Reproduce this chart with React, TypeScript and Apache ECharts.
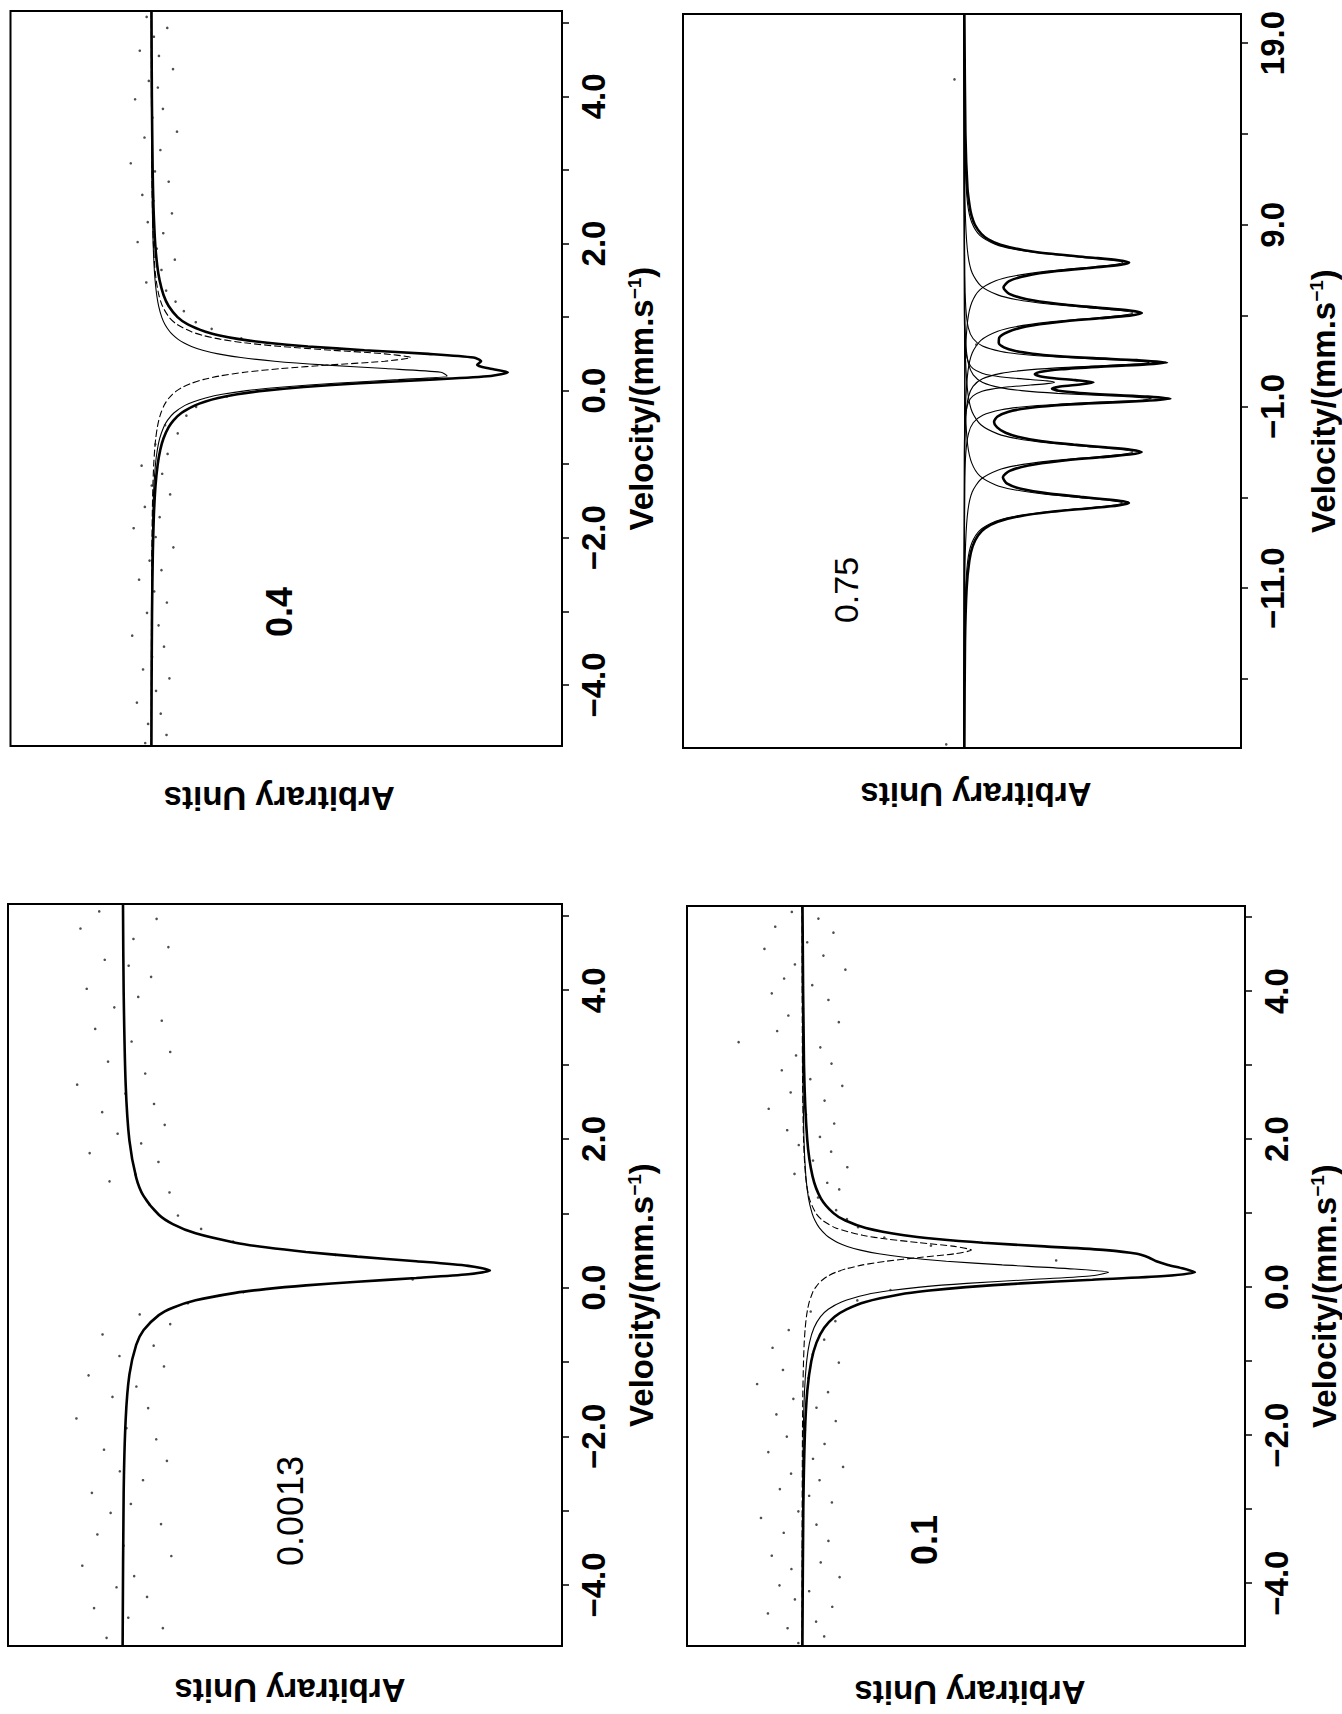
import React, { useEffect, useRef } from "react";
import * as echarts from "echarts";

type P = [number, number]; // [velocity (mm/s), absorption (arbitrary units)]

// ---------- Panel "0.4" (top left) ----------
const p04Total: P[] = [
  [5.16, 0.14], [4, 0.24], [3, 0.46], [2.5, 0.69], [2, 1.16], [1.7, 1.73], [1.5, 2.38], [1.3, 3.47],
  [1.15, 4.88], [1.0, 7.35], [0.9, 10.2], [0.8, 15.1], [0.75, 19.0], [0.7, 24.4], [0.65, 32.2],
  [0.6, 43.5], [0.55, 59.1], [0.5, 76.8], [0.45, 89.3], [0.4, 91.4], [0.35, 90.3], [0.3, 93.7],
  [0.25, 98.8], [0.2, 94.1], [0.15, 77.2], [0.1, 57.9], [0.05, 42.3], [0, 31.4], [-0.05, 23.9],
  [-0.1, 18.6], [-0.15, 14.9], [-0.2, 12.2], [-0.3, 8.5], [-0.4, 6.3], [-0.5, 4.85], [-0.65, 3.45],
  [-0.8, 2.59], [-1.0, 1.86], [-1.3, 1.23], [-1.7, 0.79], [-2.2, 0.51], [-3, 0.29], [-4, 0.17], [-4.83, 0.12],
];
const p04CompA: P[] = [
  [5.16, 0.07], [4, 0.13], [3, 0.25], [2.5, 0.36], [2, 0.59], [1.7, 0.85], [1.5, 1.13], [1.3, 1.58],
  [1.15, 2.12], [1.0, 2.97], [0.9, 3.87], [0.8, 5.23], [0.75, 6.2], [0.7, 7.43], [0.65, 9.05],
  [0.6, 11.2], [0.55, 14.3], [0.5, 18.6], [0.45, 24.9], [0.4, 34.2], [0.35, 47.7], [0.3, 64.9],
  [0.25, 80.3], [0.2, 82.0], [0.15, 68.5], [0.1, 50.9], [0.05, 36.6], [0, 26.5], [-0.05, 19.7],
  [-0.1, 15.1], [-0.15, 11.8], [-0.2, 9.4], [-0.3, 6.4], [-0.4, 4.6], [-0.5, 3.47], [-0.65, 2.41],
  [-0.8, 1.77], [-1.0, 1.24], [-1.3, 0.8], [-1.7, 0.5], [-2.2, 0.32], [-3, 0.18], [-4, 0.11], [-4.83, 0.07],
];
const p04CompB: P[] = [
  [5.16, 0.08], [4, 0.13], [3, 0.25], [2.5, 0.38], [2, 0.66], [1.7, 1.02], [1.5, 1.44], [1.3, 2.17],
  [1.15, 3.16], [1.0, 4.98], [0.9, 7.19], [0.8, 11.2], [0.75, 14.4], [0.7, 19.1], [0.65, 25.9],
  [0.6, 36.0], [0.55, 49.8], [0.5, 64.7], [0.45, 71.9], [0.4, 64.7], [0.35, 49.8], [0.3, 36.0],
  [0.25, 25.9], [0.2, 19.1], [0.15, 14.4], [0.1, 11.2], [0.05, 8.87], [0, 7.19], [-0.05, 5.94],
  [-0.1, 4.98], [-0.15, 4.23], [-0.2, 3.64], [-0.3, 2.77], [-0.4, 2.17], [-0.5, 1.75], [-0.65, 1.31],
  [-0.8, 1.02], [-1.0, 0.76], [-1.3, 0.52], [-1.7, 0.35], [-2.2, 0.23], [-3, 0.14], [-4, 0.09], [-4.83, 0.05],
];
const p04Points: P[] = [
  [5.08, -1.2], [4.93, 4.5], [4.81, 0.8], [4.62, -3.1], [4.55, 2.2], [4.37, 6.1], [4.21, -0.6], [4.12, 1.9],
  [3.96, -4.4], [3.83, 3.3], [3.71, 0.4], [3.52, 7.2], [3.44, -1.8], [3.27, 2.6], [3.09, -5.6], [2.98, 1.1],
  [2.84, 4.9], [2.66, -2.4], [2.58, 0.7], [2.41, 5.8], [2.29, -0.9], [2.14, 3.4], [2.02, -3.7], [1.93, 1.6],
  [1.78, 6.6], [1.64, 2.9], [1.47, -1.3], [1.36, 4.2], [1.21, 6.8], [1.08, 9.1], [0.93, 12.4], [0.84, 16.8],
  [0.71, 25], [-0.08, 21], [-0.22, 12.5], [-0.34, 9.8], [-0.47, 3.9], [-0.58, 7.4], [-0.73, 1.2],
  [-0.86, 4.6], [-1.02, -2.6], [-1.13, 3.1], [-1.29, 0.2], [-1.41, 5.3], [-1.58, -1.7], [-1.72, 2.4],
  [-1.87, -4.8], [-1.99, 1.3], [-2.13, 6.2], [-2.31, -0.4], [-2.44, 2.9], [-2.57, -3.3], [-2.73, 0.9],
  [-2.88, 4.4], [-3.02, -1.1], [-3.19, 2.1], [-3.33, -5.2], [-3.48, 3.6], [-3.62, 0.3], [-3.79, -2.2],
  [-3.91, 5.1], [-4.08, 1.4], [-4.24, -3.9], [-4.39, 2.7], [-4.53, -0.8], [-4.68, 4.3], [-4.79, -1.6],
];

// ---------- Panel "0.75" (top right) ----------
const p075Total: P[] = [
  [20.6, 0.2], [14, 0.7], [11, 1.7], [10, 2.8], [9.5, 3.7], [9, 5.3], [8.5, 8.4], [8.2, 11.8], [7.9, 17.7],
  [7.6, 29.2], [7.4, 42.5], [7.2, 61.2], [7.05, 75.1], [6.92, 80.2], [6.8, 76.2], [6.65, 63.4], [6.45, 45.3],
  [6.2, 30.5], [5.9, 21.9], [5.55, 19.2], [5.2, 22.0], [4.9, 30.5], [4.65, 45.3], [4.45, 63.8], [4.28, 80.5],
  [4.14, 86.4], [4.0, 80.4], [3.85, 65.7], [3.65, 46.1], [3.4, 30.2], [3.1, 21.3], [2.8, 17.2], [2.5, 16.9],
  [2.25, 19.4], [2.05, 25.0], [1.9, 33.3], [1.78, 44.9], [1.66, 62.9], [1.55, 84.1], [1.42, 98.6],
  [1.3, 86.8], [1.18, 65.0], [1.05, 47.2], [0.9, 36.8], [0.78, 34.4], [0.66, 36.8], [0.55, 43.9],
  [0.45, 54.1], [0.33, 62.9], [0.22, 57.1], [0.1, 46.7], [-0.02, 42.7], [-0.14, 45.9], [-0.26, 56.3],
  [-0.36, 71.3], [-0.46, 89.4], [-0.58, 100.2], [-0.7, 86.9], [-0.82, 63.5], [-0.95, 43.9], [-1.1, 30.5],
  [-1.3, 21.3], [-1.55, 16.3], [-1.85, 14.6], [-2.15, 16.1], [-2.45, 20.2], [-2.7, 27.2], [-2.9, 37.2],
  [-3.1, 53.2], [-3.25, 68.7], [-3.38, 81.0], [-3.51, 86.3], [-3.65, 80.4], [-3.8, 66.0], [-4.0, 46.7],
  [-4.25, 31.2], [-4.55, 22.2], [-4.9, 18.9], [-5.25, 21.0], [-5.55, 28.2], [-5.8, 41.4], [-5.98, 56.6],
  [-6.12, 69.9], [-6.22, 77.3], [-6.32, 80.1], [-6.45, 74.9], [-6.6, 61.2], [-6.8, 42.5], [-7.05, 26.6],
  [-7.35, 16.4], [-7.7, 10.3], [-8.1, 6.8], [-8.7, 4.2], [-9.5, 2.6], [-11, 1.3], [-14, 0.5], [-19.8, 0.2],
];
const p075Comp1: P[] = [
  [20.6, 0.1], [14.92, 0.3], [11.92, 0.76], [10.12, 1.8], [9.12, 3.8], [8.42, 7.7], [7.92, 15.4], [7.67, 23.7],
  [7.42, 38.5], [7.22, 56.6], [7.07, 70.6], [6.92, 77], [6.77, 70.6], [6.62, 56.6], [6.42, 38.5], [6.17, 23.7],
  [5.92, 15.4], [5.42, 7.7], [4.72, 3.8], [3.72, 1.8], [1.92, 0.76], [-1.08, 0.3], [-19.8, 0.05],
];
const p075Comp2: P[] = [
  [20.6, 0.1], [12.14, 0.32], [9.14, 0.81], [7.34, 1.95], [6.34, 4.0], [5.64, 8.2], [5.14, 16.4], [4.89, 25.2],
  [4.64, 41], [4.44, 60.3], [4.29, 75.2], [4.14, 82], [3.99, 75.2], [3.84, 60.3], [3.64, 41], [3.39, 25.2],
  [3.14, 16.4], [2.64, 8.2], [1.94, 4.0], [0.94, 1.95], [-0.86, 0.81], [-3.86, 0.32], [-19.8, 0.05],
];
const p075Comp3: P[] = [
  [20.6, 0.05], [6.22, 0.35], [4.42, 0.9], [3.34, 2.1], [2.74, 4.4], [2.32, 9], [2.02, 18], [1.87, 27.7],
  [1.72, 45], [1.6, 66.2], [1.51, 82.5], [1.42, 90], [1.33, 82.5], [1.24, 66.2], [1.12, 45], [0.97, 27.7],
  [0.82, 18], [0.52, 9], [0.1, 4.4], [-0.5, 2.1], [-1.58, 0.9], [-3.38, 0.35], [-19.8, 0.05],
];
const p075Comp0: P[] = [
  [20.6, 0.02], [4.33, 0.17], [2.83, 0.44], [1.93, 1.05], [1.43, 2.16], [1.08, 4.4], [0.83, 8.8], [0.705, 13.5],
  [0.58, 22], [0.48, 32.3], [0.405, 40.3], [0.33, 44], [0.255, 40.3], [0.18, 32.3], [0.08, 22], [-0.045, 13.5],
  [-0.17, 8.8], [-0.42, 4.4], [-0.77, 2.16], [-1.27, 1.05], [-2.17, 0.44], [-3.67, 0.17], [-19.8, 0.02],
];
const p075Comp4: P[] = [
  [20.6, 0.05], [4.22, 0.35], [2.42, 0.9], [1.34, 2.2], [0.74, 4.5], [0.32, 9.1], [0.02, 18.2], [-0.13, 28],
  [-0.28, 45.5], [-0.4, 66.9], [-0.49, 83.4], [-0.58, 91], [-0.67, 83.4], [-0.76, 66.9], [-0.88, 45.5],
  [-1.03, 28], [-1.18, 18.2], [-1.48, 9.1], [-1.9, 4.5], [-2.5, 2.2], [-3.58, 0.9], [-5.38, 0.35], [-19.8, 0.05],
];
const p075Comp5: P[] = [
  [20.6, 0.05], [4.49, 0.32], [1.49, 0.81], [-0.31, 1.95], [-1.31, 4.0], [-2.01, 8.2], [-2.51, 16.4],
  [-2.76, 25.2], [-3.01, 41], [-3.21, 60.3], [-3.36, 75.2], [-3.51, 82], [-3.66, 75.2], [-3.81, 60.3],
  [-4.01, 41], [-4.26, 25.2], [-4.51, 16.4], [-5.01, 8.2], [-5.71, 4.0], [-6.71, 1.95], [-8.51, 0.81],
  [-11.51, 0.32], [-19.8, 0.1],
];
const p075Comp6: P[] = [
  [20.6, 0.05], [1.68, 0.3], [-1.32, 0.76], [-3.12, 1.8], [-4.12, 3.8], [-4.82, 7.7], [-5.32, 15.4],
  [-5.57, 23.7], [-5.82, 38.5], [-6.02, 56.6], [-6.17, 70.6], [-6.32, 77], [-6.47, 70.6], [-6.62, 56.6],
  [-6.82, 38.5], [-7.07, 23.7], [-7.32, 15.4], [-7.82, 7.7], [-8.52, 3.8], [-9.52, 1.8], [-11.32, 0.76],
  [-14.32, 0.3], [-19.8, 0.1],
];
const p075Points: P[] = [[17.0, -4.6], [2.4, 6], [-19.6, -8.6]];

// ---------- Panel "0.0013" (bottom left) ----------
const p0013Total: P[] = [
  [5.16, 0.26], [3.98, 0.44], [2.73, 0.99], [1.98, 2.0], [1.48, 3.85], [1.23, 5.88], [0.98, 10],
  [0.855, 13.8], [0.73, 20], [0.605, 30.8], [0.5425, 39], [0.48, 50], [0.4175, 64], [0.355, 80],
  [0.2925, 94.1], [0.23, 100], [0.18, 94.1], [0.13, 80], [0.08, 64], [0.03, 50], [-0.02, 39],
  [-0.07, 30.8], [-0.17, 20], [-0.27, 13.8], [-0.37, 10], [-0.57, 5.88], [-0.77, 3.85], [-1.17, 2.0],
  [-1.77, 0.99], [-2.77, 0.44], [-4.82, 0.16],
];
const p0013Points: P[] = [
  [5.06, -6.2], [4.96, 9.4], [4.83, -11.3], [4.69, 3.1], [4.58, 12.6], [4.41, -4.7], [4.33, 1.8],
  [4.18, 7.9], [4.02, -9.6], [3.91, 4.4], [3.77, -2.1], [3.59, 10.8], [3.48, -7.3], [3.31, 2.6],
  [3.17, 13.1], [3.04, -3.8], [2.88, 6.3], [2.73, -12.2], [2.61, 0.9], [2.47, 8.7], [2.36, -5.4],
  [2.19, 11.6], [2.07, -1.2], [1.94, 5.2], [1.81, -8.8], [1.69, 9.9], [1.52, 3.7], [1.43, -3.4],
  [1.28, 12.9], [1.12, 7.4], [0.97, 15.2], [0.79, 21.5], [0.62, 30.2], [0.44, 58], [0.11, 79],
  [-0.06, 33], [-0.21, 17.9], [-0.36, 4.8], [-0.49, 13.1], [-0.63, -5.3], [-0.78, 8.6], [-0.92, -0.7],
  [-1.06, 11.4], [-1.18, -9.1], [-1.33, 3.9], [-1.47, -2.6], [-1.62, 7.1], [-1.76, -12.4], [-1.89, 1.2],
  [-2.04, 9.3], [-2.18, -4.9], [-2.33, 12.2], [-2.47, -0.6], [-2.59, 5.7], [-2.76, -8.2], [-2.91, 2.4],
  [-3.03, -3.1], [-3.18, 10.6], [-3.32, -6.7], [-3.47, 0.4], [-3.61, 13.4], [-3.74, -10.8], [-3.88, 3.3],
  [-4.03, -1.5], [-4.16, 6.8], [-4.31, -7.6], [-4.44, 1.7], [-4.58, 11.1], [-4.71, -4.2],
];

// ---------- Panel "0.1" (bottom right) ----------
const p01Total: P[] = [
  [5.15, 0.17], [3, 0.56], [2, 1.39], [1.5, 2.77], [1.2, 4.93], [1.0, 8.2], [0.9, 11.3], [0.8, 16.6],
  [0.7, 26.5], [0.65, 35], [0.6, 47], [0.55, 63], [0.5, 79], [0.45, 87], [0.4, 90],
  [0.35, 92], [0.3, 95], [0.25, 99], [0.2, 102], [0.15, 94.1], [0.1, 75.4], [0.05, 56.9],
  [0, 42.6], [-0.05, 32.5], [-0.1, 25.4], [-0.2, 16.5], [-0.3, 11.6], [-0.4, 8.5], [-0.55, 5.8],
  [-0.75, 3.8], [-1.0, 2.46], [-1.4, 1.42], [-2, 0.78], [-3, 0.38], [-4.85, 0.15],
];
const p01CompA: P[] = [
  [5.15, 0.07], [3, 0.23], [2, 0.55], [1.5, 1.04], [1.2, 1.73], [1.0, 2.65], [0.9, 3.42], [0.8, 4.56],
  [0.7, 6.37], [0.65, 7.7], [0.6, 9.4], [0.55, 11.8], [0.5, 15.2], [0.45, 20], [0.4, 27.1], [0.35, 37.5],
  [0.3, 52], [0.25, 69], [0.2, 79.6], [0.15, 74.7], [0.1, 58.8], [0.05, 42.8], [0, 30.7], [-0.05, 22.5],
  [-0.1, 16.9], [-0.2, 10.3], [-0.3, 6.85], [-0.4, 4.86], [-0.55, 3.16], [-0.75, 1.99], [-1.0, 1.26],
  [-1.4, 0.7], [-2, 0.37], [-3, 0.18], [-4.85, 0.07],
];
const p01CompB: P[] = [
  [5.15, 0.05], [3, 0.16], [2, 0.44], [1.5, 0.97], [1.2, 1.93], [1.0, 3.63], [0.9, 5.41], [0.8, 8.8],
  [0.7, 15.8], [0.65, 22], [0.6, 30.5], [0.55, 39.6], [0.5, 44], [0.45, 39.6], [0.4, 30.5], [0.35, 22],
  [0.3, 15.8], [0.25, 11.7], [0.2, 8.8], [0.15, 6.8], [0.1, 5.41], [0.05, 4.4], [0, 3.63], [-0.05, 3.0],
  [-0.1, 2.6], [-0.2, 1.93], [-0.3, 1.5], [-0.4, 1.19], [-0.55, 0.88], [-0.75, 0.62], [-1.0, 0.44],
  [-1.4, 0.27], [-2, 0.16], [-3, 0.08], [-4.85, 0.03],
];
const p01Points: P[] = [
  [5.07, -2.6], [4.98, 4.3], [4.87, -6.9], [4.79, 8.2], [4.66, 1.4], [4.57, -9.7], [4.48, 5.6], [4.36, -1.8],
  [4.29, 11.3], [4.17, -4.6], [4.08, 2.7], [3.97, -7.8], [3.88, 6.9], [3.76, 0.3], [3.67, -3.5], [3.58, 9.6],
  [3.46, -6.4], [3.31, -16.4], [3.24, 4.8], [3.13, -1.5], [3.02, 7.7], [2.93, -5.2], [2.81, 2.2],
  [2.72, 10.5], [2.63, -2.9], [2.52, 5.9], [2.41, -8.6], [2.33, 1.1], [2.21, 8.4], [2.12, -3.8],
  [2.03, 4.7], [1.92, -0.8], [1.83, 7.6], [1.71, 2.9], [1.62, 11.8], [1.53, -1.9], [1.41, 6.6],
  [1.32, 9.7], [1.21, 4.2], [1.04, 8.9], [0.92, 11.7], [0.81, 14.6], [0.67, 21.4], [0.56, 33.5],
  [0.36, 66], [-0.04, 23], [-0.18, 14.4], [-0.33, 2.3], [-0.46, 8.7], [-0.58, -3.4], [-0.71, 5.8],
  [-0.82, -7.6], [-0.91, 2.8], [-1.02, 9.6], [-1.12, -4.9], [-1.23, 1.7], [-1.31, -11.6], [-1.42, 6.8],
  [-1.51, -2.2], [-1.63, 3.8], [-1.72, -6.6], [-1.81, 8.8], [-1.93, 0.8], [-2.02, -3.9], [-2.12, 5.9],
  [-2.23, -8.7], [-2.32, 2.9], [-2.43, 10.7], [-2.52, -2.8], [-2.61, 4.6], [-2.73, -5.7], [-2.82, 1.9],
  [-2.91, 7.8], [-3.03, -0.9], [-3.12, -10.6], [-3.21, 3.8], [-3.32, -4.7], [-3.43, 6.9], [-3.52, 0.2],
  [-3.63, -7.8], [-3.72, 4.9], [-3.81, -2.7], [-3.92, 9.8], [-4.03, -5.8], [-4.11, 1.9], [-4.22, -1.8],
  [-4.32, 7.9], [-4.41, -8.8], [-4.52, 3.7], [-4.61, -3.7], [-4.72, 5.8], [-4.81, -0.9],
];

// ---------- Axis ticks / labels ----------
const narrowTicks = [-4, -3, -2, -1, 0, 1, 2, 3, 4, 5];
const narrowLabels = [-4, -2, 0, 2, 4];
const wideTicks = [-16, -11, -6, -1, 4, 9, 14, 19];
const wideLabels = [-11, -1, 9, 19];
const panelNames = ["0.4", "0.75", "0.0013", "0.1"];

const FONT = "'Liberation Sans', Arial, Helvetica, sans-serif";

interface Comp { data: P[]; dashed?: boolean }
interface Panel {
  grid: { left: number; top: number; width: number; height: number };
  v: [number, number];
  d: [number, number];
  ticks: number[];
  labels: number[];
  total: P[];
  comps: Comp[];
  points: P[];
  name: string;
  nameAt: [number, number];
  nameBold: boolean;
  nameSize: number;
  unitsGap: number;
  unitsPad: number[];
  velGap: number;
}

const panels: Panel[] = [
  {
    grid: { left: 10.5, top: 11, width: 551.5, height: 735 },
    v: [-4.83, 5.16], d: [-38.9, 113.8],
    ticks: narrowTicks, labels: narrowLabels,
    total: p04Total, comps: [{ data: p04CompA }, { data: p04CompB, dashed: true }], points: p04Points,
    name: panelNames[0], nameAt: [279, 612], nameBold: true, nameSize: 36,
    unitsGap: 36, unitsPad: [0, 0, 0, 14], velGap: 63,
  },
  {
    grid: { left: 683, top: 14, width: 558, height: 734 },
    v: [-19.8, 20.6], d: [-136.4, 134.5],
    ticks: wideTicks, labels: wideLabels,
    total: p075Total,
    comps: [p075Comp1, p075Comp2, p075Comp3, p075Comp0, p075Comp4, p075Comp5, p075Comp6].map((c) => ({ data: c })),
    points: p075Points,
    name: panelNames[1], nameAt: [846, 590], nameBold: false, nameSize: 34,
    unitsGap: 30, unitsPad: [0, 28, 0, 0], velGap: 66,
  },
  {
    grid: { left: 8, top: 904, width: 554, height: 742 },
    v: [-4.82, 5.16], d: [-31.0, 119.6],
    ticks: narrowTicks, labels: narrowLabels,
    total: p0013Total, comps: [], points: p0013Points,
    name: panelNames[2], nameAt: [290, 1511], nameBold: false, nameSize: 36,
    unitsGap: 28, unitsPad: [0, 10, 0, 0], velGap: 63,
  },
  {
    grid: { left: 687, top: 906, width: 558, height: 740 },
    v: [-4.85, 5.15], d: [-29.8, 115.0],
    ticks: narrowTicks, labels: narrowLabels,
    total: p01Total, comps: [{ data: p01CompA }, { data: p01CompB, dashed: true }], points: p01Points,
    name: panelNames[3], nameAt: [924, 1540], nameBold: true, nameSize: 36,
    unitsGap: 30, unitsPad: [0, 8, 0, 0], velGap: 63,
  },
];

const fmt = (v: number) => (v < 0 ? "\u2212" : "") + Math.abs(v).toFixed(1);
const flip = (arr: P[]) => arr.map(([v, d]) => [d, v]);

function buildOption() {
  const grid = panels.map((p) => ({
    left: p.grid.left, top: p.grid.top, width: p.grid.width, height: p.grid.height,
    show: true, borderColor: "#000", borderWidth: 2, backgroundColor: "transparent",
  }));
  const xAxis = panels.map((p, i) => ({
    type: "value", gridIndex: i, min: p.d[0], max: p.d[1],
    axisLine: { show: false }, axisTick: { show: false }, axisLabel: { show: false }, splitLine: { show: false },
    name: "Arbitrary Units", nameLocation: "middle", nameRotate: 180, nameGap: p.unitsGap,
    nameTextStyle: { fontFamily: FONT, fontSize: 33, fontWeight: "bold", color: "#000", padding: p.unitsPad },
  }));
  const yAxis = panels.map((p, i) => ({
    type: "value", gridIndex: i, position: "right", min: p.v[0], max: p.v[1],
    axisLine: { show: true, onZero: false, lineStyle: { color: "#000", width: 2 } },
    axisTick: { show: true, inside: false, length: 7, customValues: p.ticks, lineStyle: { color: "#000", width: 1.5 } },
    axisLabel: {
      show: true, rotate: 90, margin: 15, customValues: p.labels, formatter: fmt,
      fontFamily: FONT, fontSize: 33, fontWeight: "bold", color: "#000",
    },
    splitLine: { show: false },
    name: "{a|Velocity/(mm.s}{b|\u22121}{a|)}",
    nameLocation: "middle", nameRotate: 90, nameGap: p.velGap,
    nameTextStyle: {
      fontFamily: FONT, fontSize: 33, fontWeight: "bold", color: "#000", padding: [0, 40, 0, 0],
      rich: {
        a: { fontFamily: FONT, fontSize: 33, fontWeight: "bold", color: "#000" },
        b: { fontFamily: FONT, fontSize: 19, fontWeight: "bold", color: "#000", verticalAlign: "top" },
      },
    },
  }));
  const series: any[] = [];
  panels.forEach((p, i) => {
    p.comps.forEach((c) => {
      series.push({
        type: "line", xAxisIndex: i, yAxisIndex: i, data: flip(c.data), showSymbol: false,
        smooth: 0.25, z: 2,
        lineStyle: { color: "#000", width: 1.1, type: c.dashed ? [7, 3] : "solid" },
      });
    });
    series.push({
      type: "scatter", xAxisIndex: i, yAxisIndex: i, data: flip(p.points), symbolSize: 2.6, z: 3,
      itemStyle: { color: "#222", opacity: 0.8 },
    });
    series.push({
      type: "line", xAxisIndex: i, yAxisIndex: i, data: flip(p.total), showSymbol: false,
      smooth: 0.25, z: 4,
      lineStyle: { color: "#000", width: 2.6 },
    });
  });
  const graphic = panels.map((p) => ({
    type: "text", x: p.nameAt[0], y: p.nameAt[1], rotation: Math.PI / 2, z: 10,
    style: {
      text: p.name, fontFamily: FONT, fontSize: p.nameSize, fontWeight: p.nameBold ? "bold" : "normal",
      fill: "#000", align: "center", verticalAlign: "middle", textAlign: "center", textVerticalAlign: "middle",
    },
  }));
  return { animation: false, backgroundColor: "#fff", grid, xAxis, yAxis, series, graphic };
}

export default function App() {
  const ref = useRef<HTMLDivElement>(null);
  useEffect(() => {
    if (!ref.current) return;
    const chart = echarts.init(ref.current, undefined, { renderer: "svg" });
    chart.setOption(buildOption() as any);
    return () => chart.dispose();
  }, []);
  return (
    <div
      ref={ref}
      style={{ position: "absolute", left: 0, top: 0, width: 1342, height: 1714, background: "#fff" }}
    />
  );
}
